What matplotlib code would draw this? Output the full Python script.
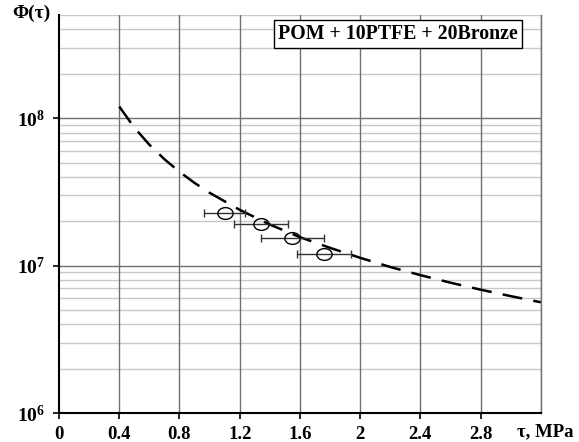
import matplotlib
matplotlib.use("Agg")
import matplotlib.pyplot as plt
from matplotlib.ticker import FixedLocator, NullFormatter
from matplotlib.path import Path
from matplotlib.transforms import Affine2D

plt.rcParams['font.family'] = ['Liberation Serif', 'DejaVu Serif']
plt.rcParams['font.weight'] = 'bold'
plt.rcParams['mathtext.fontset'] = 'custom'
plt.rcParams['mathtext.rm'] = 'Liberation Serif:bold'
plt.rcParams['mathtext.bf'] = 'Liberation Serif:bold'
plt.rcParams['mathtext.it'] = 'Liberation Serif:bold'

# fitted curve
curve_x = [0.4, 0.5, 0.6, 0.7, 0.8, 0.9, 1.0, 1.2, 1.4, 1.6, 1.8, 2.0, 2.2, 2.4, 2.6,
           2.8, 3.0, 3.2]
curve_y = [1.2e8, 8.64e7, 6.61e7, 5.27e7, 4.33e7, 3.64e7, 3.12e7, 2.39e7, 1.90e7,
           1.56e7, 1.32e7, 1.13e7, 9.79e6, 8.62e6, 7.66e6, 6.87e6, 6.21e6, 5.64e6]

# experimental points
pt_x = [1.10, 1.34, 1.55, 1.76]
pt_y = [2.27e7, 1.91e7, 1.53e7, 1.20e7]
pt_xerr = [0.135, 0.18, 0.21, 0.18]

x_ticks = [0, 0.4, 0.8, 1.2, 1.6, 2.0, 2.4, 2.8]
x_labels = ['0', '0.4', '0.8', '1.2', '1.6', '2', '2.4', '2.8']
y_ticks = [1e6, 1e7, 1e8]
y_labels = [r'$10^{6}$', r'$10^{7}$', r'$10^{8}$']
legend_text = 'POM + 10PTFE + 20Bronze'

fig = plt.figure(figsize=(5.79, 4.42), dpi=100)
ax = fig.add_axes([0.102, 0.0656, 0.832, 0.9])

ax.set_yscale('log')
ax.set_xlim(0, 3.2)
ax.set_ylim(1e6, 5e8)

# grid
minor_y = [m * 10**e for e in (6, 7, 8) for m in range(2, 10) if m * 10**e <= 5e8]
for yv in minor_y:
    ax.axhline(yv, color='#c8c8c8', lw=1.0, zorder=0)
for yv in [1e7, 1e8]:
    ax.axhline(yv, color='#707070', lw=1.0, zorder=0)
for xv in x_ticks[1:] + [3.2]:
    ax.axvline(xv, color='#707070', lw=1.0, zorder=0)

ellipse = Path.unit_circle().transformed(Affine2D().scale(1.3, 1.0))

ax.plot(curve_x, curve_y, color='black', lw=1.8, dashes=(8, 4.5), zorder=3)
ax.errorbar(pt_x, pt_y, xerr=pt_xerr, fmt='none', ecolor='#333333', elinewidth=1.0,
            capsize=3, capthick=1.0, zorder=4)
ax.plot(pt_x, pt_y, linestyle='none', marker=ellipse, markersize=11, markerfacecolor='none',
        markeredgecolor='black', markeredgewidth=1.0, zorder=5)

ax.xaxis.set_major_locator(FixedLocator(x_ticks))
ax.set_xticklabels(x_labels, fontsize=13.5, fontweight='bold')
ax.yaxis.set_major_locator(FixedLocator(y_ticks))
ax.set_yticklabels(y_labels, fontsize=14)
ax.yaxis.set_minor_locator(FixedLocator([]))
ax.yaxis.set_minor_formatter(NullFormatter())
ax.tick_params(axis='both', direction='out', length=4, width=1.2, color='black')
ax.tick_params(axis='x', pad=5)
ax.tick_params(axis='y', pad=6)

ax.spines['top'].set_visible(False)
ax.spines['right'].set_color('#707070')
ax.spines['right'].set_linewidth(1.0)
ax.spines['left'].set_linewidth(1.5)
ax.spines['bottom'].set_linewidth(1.5)

fig.text(0.022, 0.97, 'Φ(τ)', fontsize=14, fontweight='bold', ha='left', va='center')
fig.text(0.99, 0.024, 'τ, MPa', fontsize=13.5, fontweight='bold', ha='right', va='center')

ax.text(0.704, 0.953, legend_text, transform=ax.transAxes, ha='center', va='center',
        fontsize=14.3, fontweight='bold',
        bbox=dict(boxstyle='square,pad=0.2', facecolor='white', edgecolor='black', lw=1.0),
        zorder=6)

fig.savefig('out.png', dpi=100)
